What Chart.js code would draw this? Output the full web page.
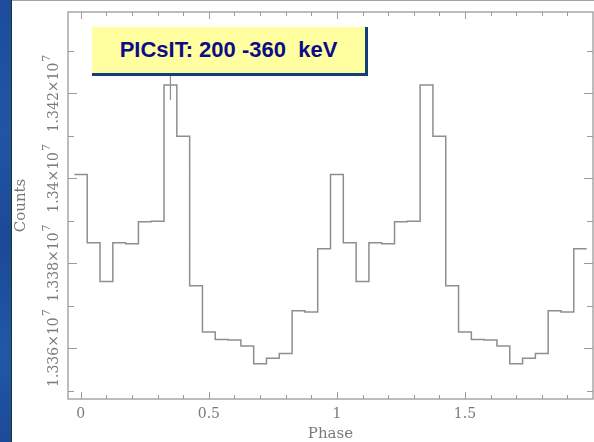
<!DOCTYPE html>
<html>
<head>
<meta charset="utf-8">
<script src="https://cdn.jsdelivr.net/npm/chart.js@4.4.1/dist/chart.umd.min.js"></script>
<style>
    html, body { margin: 0; padding: 0; }
    body { width: 594px; height: 442px; position: relative; overflow: hidden; background: #ffffff; }
    #strip {
        position: absolute; left: 0; top: 0; width: 11px; height: 442px;
        background: linear-gradient(180deg, #1d4c9c, #2254a6 30%, #1b4996 55%, #2157a8 80%, #1c4a98);
        border-right: 1px solid #173a20;
    }
    #topline { position: absolute; left: 12px; top: 0; width: 582px; height: 1px; background: #9aa89a; }
    #chart { position: absolute; left: 0; top: 0; }
    #label {
        position: absolute; left: 92px; top: 27px; width: 273px; height: 46px;
        background: #ffff9f;
        border-right: 3px solid #123f78; border-bottom: 3px solid #123f78;
        font: bold 22px "Liberation Sans", Arial, sans-serif;
        color: #0c0c86;
        line-height: 46px; text-align: center; white-space: pre;
    }
</style>
</head>
<body>
<div id="strip"></div>
<div id="topline"></div>
<canvas id="chart" width="594" height="442"></canvas>
<div id="label">PICsIT: 200 -360  keV</div>

<script>
    // Bin centres (phase) and counts, two cycles
    const phase = [
        0.00, 0.05, 0.10, 0.15, 0.20, 0.25, 0.30, 0.35, 0.40, 0.45,
        0.50, 0.55, 0.60, 0.65, 0.70, 0.75, 0.80, 0.85, 0.90, 0.95,
        1.00, 1.05, 1.10, 1.15, 1.20, 1.25, 1.30, 1.35, 1.40, 1.45,
        1.50, 1.55, 1.60, 1.65, 1.70, 1.75, 1.80, 1.85, 1.90, 1.95
    ];
    const counts = [
        13400900, 13384800, 13375700, 13384800, 13384600, 13389800, 13389900, 13422000, 13409900, 13374700,
        13363800, 13362000, 13361900, 13360500, 13356300, 13357600, 13358700, 13368800, 13368500, 13383400,
        13400900, 13384800, 13375700, 13384800, 13384600, 13389800, 13389900, 13422000, 13409900, 13374700,
        13363800, 13362000, 13361900, 13360500, 13356300, 13357600, 13358700, 13368800, 13368500, 13383400
    ];
    const binWidth = 0.05;

    // Single representative error bar on the main peak
    const errPhase = 0.35;
    const errCount = 13422000;
    const errHalf = 3500;

    // Axis ticks and labels (mantissa and power shown as superscript)
    const xMajor = [0, 0.5, 1, 1.5];
    const xMajorLabels = ['0', '0.5', '1', '1.5'];
    const xMinor = [0.1, 0.2, 0.3, 0.4, 0.6, 0.7, 0.8, 0.9, 1.1, 1.2, 1.3, 1.4, 1.6, 1.7, 1.8, 1.9];
    const yMajor = [13360000, 13380000, 13400000, 13420000];
    const yMajorLabels = ['1.336\u00d710', '1.338\u00d710', '1.34\u00d710', '1.342\u00d710'];
    const yPower = '7';
    const yMinor = [13350000, 13370000, 13390000, 13410000, 13430000];

    const xTitle = 'Phase';
    const yTitle = 'Counts';

    const lineColor = '#8e8e8e';
    const frameColor = '#9a9a9a';
    const textColor = '#7a7a7a';
    const serif = '"DejaVu Serif", "Liberation Serif", serif';

    // Histogram outline: left edge of every bin, plus the closing right edge
    const histPoints = phase.map((p, i) => ({ x: p - binWidth / 2, y: counts[i] }));
    histPoints.push({ x: phase[phase.length - 1] + binWidth / 2, y: counts[counts.length - 1] });

    const framePlugin = {
        id: 'frame',
        afterDatasetsDraw(chart) {
            const ctx = chart.ctx;
            const area = chart.chartArea;
            const xs = chart.scales.x;
            const ys = chart.scales.y;

            ctx.save();
            ctx.strokeStyle = frameColor;
            ctx.lineWidth = 1.3;
            ctx.strokeRect(area.left, area.top, area.right - area.left, area.bottom - area.top);

            ctx.lineWidth = 1;
            ctx.beginPath();
            // x ticks, bottom and top, pointing inwards
            xMajor.forEach(v => {
                const px = Math.round(xs.getPixelForValue(v)) + 0.5;
                ctx.moveTo(px, area.bottom); ctx.lineTo(px, area.bottom - 7);
                ctx.moveTo(px, area.top); ctx.lineTo(px, area.top + 7);
            });
            xMinor.forEach(v => {
                const px = Math.round(xs.getPixelForValue(v)) + 0.5;
                ctx.moveTo(px, area.bottom); ctx.lineTo(px, area.bottom - 4);
                ctx.moveTo(px, area.top); ctx.lineTo(px, area.top + 4);
            });
            // y ticks, left and right
            yMajor.forEach(v => {
                const py = Math.round(ys.getPixelForValue(v)) + 0.5;
                ctx.moveTo(area.left, py); ctx.lineTo(area.left + 9, py);
                ctx.moveTo(area.right, py); ctx.lineTo(area.right - 9, py);
            });
            yMinor.forEach(v => {
                const py = Math.round(ys.getPixelForValue(v)) + 0.5;
                ctx.moveTo(area.left, py); ctx.lineTo(area.left + 6, py);
                ctx.moveTo(area.right, py); ctx.lineTo(area.right - 6, py);
            });
            ctx.stroke();

            // tick labels
            ctx.fillStyle = textColor;
            ctx.font = '14px ' + serif;
            ctx.textAlign = 'center';
            ctx.textBaseline = 'middle';
            xMajor.forEach((v, i) => {
                ctx.fillText(xMajorLabels[i], xs.getPixelForValue(v), area.bottom + 15);
            });
            ctx.font = '15px ' + serif;
            ctx.fillText(xTitle, (area.left + area.right) / 2, area.bottom + 35);

            // rotated y labels with a raised power
            ctx.textBaseline = 'alphabetic';
            ctx.textAlign = 'left';
            yMajor.forEach((v, i) => {
                ctx.font = '14px ' + serif;
                const mainW = ctx.measureText(yMajorLabels[i]).width;
                ctx.font = '11px ' + serif;
                const powW = ctx.measureText(yPower).width;
                const start = -(mainW + powW + 1) / 2;
                ctx.save();
                ctx.translate(58, ys.getPixelForValue(v));
                ctx.rotate(-Math.PI / 2);
                ctx.font = '14px ' + serif;
                ctx.fillText(yMajorLabels[i], start, 0);
                ctx.font = '11px ' + serif;
                ctx.fillText(yPower, start + mainW + 1, -8);
                ctx.restore();
            });
            ctx.save();
            ctx.textAlign = 'center';
            ctx.font = '15px ' + serif;
            ctx.translate(25, (area.top + area.bottom) / 2);
            ctx.rotate(-Math.PI / 2);
            ctx.fillText(yTitle, 0, 0);
            ctx.restore();

            ctx.restore();
        }
    };

    new Chart(document.getElementById('chart').getContext('2d'), {
        type: 'line',
        data: {
            datasets: [{
                data: histPoints,
                stepped: true,
                borderColor: lineColor,
                borderWidth: 1.5,
                pointRadius: 0,
                fill: false
            }, {
                data: [
                    { x: errPhase, y: errCount - errHalf },
                    { x: errPhase, y: errCount + errHalf }
                ],
                borderColor: lineColor,
                borderWidth: 1.2,
                pointRadius: 0,
                fill: false
            }]
        },
        options: {
            responsive: false,
            animation: false,
            layout: { padding: { left: 68, top: 12, right: 1, bottom: 43 } },
            plugins: {
                legend: { display: false },
                tooltip: { enabled: false }
            },
            scales: {
                x: { type: 'linear', min: -0.05, max: 2.0, display: false },
                y: { type: 'linear', min: 13348000, max: 13439200, display: false }
            }
        },
        plugins: [framePlugin]
    });
</script>
</body>
</html>
